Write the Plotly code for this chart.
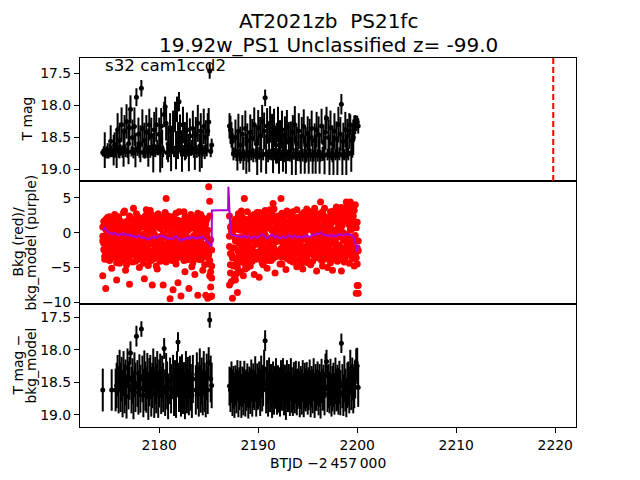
import plotly.graph_objects as go
from plotly.subplots import make_subplots

# ---------------- data ----------------
T_A = [
    2174.3, 2174.4, 2174.5, 2174.6, 2174.7, 2174.8, 2174.9, 2175.0, 2175.1, 2175.2,
    2175.3, 2175.4, 2175.5, 2175.6, 2175.7, 2175.8, 2175.9, 2176.0, 2176.1, 2176.2,
    2176.3, 2176.4, 2176.5, 2176.6, 2176.7, 2176.8, 2176.9, 2177.0, 2177.1, 2177.2,
    2177.3, 2177.4, 2177.5, 2177.6, 2177.7, 2177.8, 2177.9, 2178.0, 2178.1, 2178.2,
    2178.3, 2178.4, 2178.5, 2178.6, 2178.7, 2178.8, 2178.9, 2179.0, 2179.1, 2179.2,
    2179.3, 2179.4, 2179.5, 2179.6, 2179.7, 2179.8, 2179.9, 2180.0, 2180.1, 2180.2,
    2180.3, 2180.4, 2180.5, 2180.6, 2180.7, 2180.8, 2180.9, 2181.0, 2181.1, 2181.2,
    2181.3, 2181.4, 2181.5, 2181.6, 2181.7, 2181.8, 2181.9, 2182.0, 2182.1, 2182.2,
    2182.3, 2182.4, 2182.5, 2182.6, 2182.7, 2182.8, 2182.9, 2183.0, 2183.1, 2183.2,
    2183.3, 2183.4, 2183.5, 2183.6, 2183.7, 2183.8, 2183.9, 2184.0, 2184.1, 2184.2,
    2184.3, 2184.4, 2184.5, 2184.6, 2184.7, 2184.8, 2184.9, 2185.0, 2185.1, 2185.2,
    2185.3,
]
T_B = [
    2187.1, 2187.2, 2187.3, 2187.4, 2187.5, 2187.6, 2187.7, 2187.8, 2187.9, 2188.0,
    2188.1, 2188.2, 2188.3, 2188.4, 2188.5, 2188.6, 2188.7, 2188.8, 2188.9, 2189.0,
    2189.1, 2189.2, 2189.3, 2189.4, 2189.5, 2189.6, 2189.7, 2189.8, 2189.9, 2190.0,
    2190.1, 2190.2, 2190.3, 2190.4, 2190.5, 2190.6, 2190.7, 2190.8, 2190.9, 2191.0,
    2191.1, 2191.2, 2191.3, 2191.4, 2191.5, 2191.6, 2191.7, 2191.8, 2191.9, 2192.0,
    2192.1, 2192.2, 2192.3, 2192.4, 2192.5, 2192.6, 2192.7, 2192.8, 2192.9, 2193.0,
    2193.1, 2193.2, 2193.3, 2193.4, 2193.5, 2193.6, 2193.7, 2193.8, 2193.9, 2194.0,
    2194.1, 2194.2, 2194.3, 2194.4, 2194.5, 2194.6, 2194.7, 2194.8, 2194.9, 2195.0,
    2195.1, 2195.2, 2195.3, 2195.4, 2195.5, 2195.6, 2195.7, 2195.8, 2195.9, 2196.0,
    2196.1, 2196.2, 2196.3, 2196.4, 2196.5, 2196.6, 2196.7, 2196.8, 2196.9, 2197.0,
    2197.1, 2197.2, 2197.3, 2197.4, 2197.5, 2197.6, 2197.7, 2197.8, 2197.9, 2198.0,
    2198.1, 2198.2, 2198.3, 2198.4, 2198.5, 2198.6, 2198.7, 2198.8, 2198.9, 2199.0,
    2199.1, 2199.2, 2199.3, 2199.4, 2199.5, 2199.6, 2199.7, 2199.8, 2199.9, 2200.0,
    2200.1,
]

# panel 1: T mag
mag_A = [
    18.74, 18.72, 18.70, 18.76, 18.73, 18.71, 18.75, 18.70, 18.56, 18.72,
    18.74, 18.70, 18.62, 18.73, 18.68, 18.38, 18.72, 18.55, 18.70, 18.30,
    18.74, 18.66, 18.40, 18.71, 18.25, 18.73, 18.60, 18.35, 18.06, 18.72,
    18.50, 18.74, 18.33, 18.70, 17.87, 18.68, 18.45, 18.72, 18.60, 17.73,
    18.36, 18.74, 18.55, 18.71, 18.42, 18.73, 18.66, 18.30, 18.72, 18.48,
    18.70, 18.74, 18.38, 18.71, 18.30, 18.66, 18.70, 18.45, 18.73, 18.32,
    18.68, 18.72, 18.14, 18.02, 18.28, 18.74, 18.60, 18.71, 18.40, 18.73,
    18.66, 18.35, 18.72, 18.18, 18.70, 18.06, 18.55, 17.94, 18.42, 18.70,
    18.74, 18.30, 18.71, 18.56, 18.73, 18.38, 18.70, 18.74, 18.48, 18.71,
    18.66, 18.36, 18.73, 18.70, 18.45, 18.72, 18.28, 18.70, 18.74, 18.40,
    18.68, 18.71, 18.33, 18.73, 18.50, 18.70, 18.40, 18.26, 17.46, 18.72,
    18.62,
]
err_A = [
    0.06, 0.08, 0.28, 0.07, 0.09, 0.12, 0.08, 0.10, 0.25, 0.09,
    0.07, 0.24, 0.20, 0.08, 0.30, 0.26, 0.10, 0.28, 0.09, 0.27,
    0.08, 0.30, 0.25, 0.10, 0.27, 0.09, 0.32, 0.26, 0.22, 0.08,
    0.28, 0.09, 0.30, 0.27, 0.14, 0.11, 0.26, 0.10, 0.29, 0.13,
    0.30, 0.08, 0.28, 0.12, 0.27, 0.09, 0.30, 0.25, 0.10, 0.29,
    0.09, 0.31, 0.28, 0.10, 0.27, 0.12, 0.08, 0.26, 0.32, 0.28,
    0.30, 0.09, 0.20, 0.16, 0.27, 0.11, 0.29, 0.10, 0.28, 0.30,
    0.10, 0.27, 0.09, 0.24, 0.30, 0.20, 0.29, 0.15, 0.28, 0.10,
    0.30, 0.28, 0.09, 0.30, 0.11, 0.27, 0.10, 0.29, 0.28, 0.08,
    0.12, 0.28, 0.09, 0.31, 0.27, 0.10, 0.29, 0.10, 0.30, 0.28,
    0.30, 0.09, 0.28, 0.11, 0.27, 0.10, 0.28, 0.22, 0.12, 0.09,
    0.10,
]
mag_B = [
    18.32, 18.38, 18.46, 18.56, 18.76, 18.74, 18.50, 18.78, 18.72, 18.40,
    18.77, 18.62, 18.79, 18.45, 18.75, 18.78, 18.36, 18.76, 18.55, 18.79,
    18.74, 18.42, 18.77, 18.51, 18.78, 18.30, 18.76, 18.60, 18.79, 18.35,
    18.75, 18.48, 18.78, 18.25, 18.77, 18.40, 17.88, 18.76, 18.32, 18.79,
    18.55, 18.28, 18.77, 18.44, 18.78, 18.35, 18.76, 18.62, 18.79, 18.30,
    18.77, 18.50, 18.78, 18.38, 18.75, 18.79, 18.45, 18.76, 18.34, 18.78,
    18.56, 18.77, 18.53, 18.79, 18.42, 18.76, 18.30, 18.78, 18.60, 18.77,
    18.40, 18.79, 18.76, 18.48, 18.78, 18.33, 18.77, 18.62, 18.79, 18.44,
    18.76, 18.50, 18.78, 18.36, 18.77, 18.79, 18.55, 18.76, 18.38, 18.78,
    18.46, 18.77, 18.79, 18.32, 18.76, 18.58, 18.78, 18.42, 18.20, 18.77,
    18.50, 18.79, 18.35, 18.76, 18.60, 18.78, 18.40, 18.77, 18.52, 18.79,
    18.30, 18.76, 18.45, 17.98, 18.78, 18.56, 18.77, 18.38, 18.79, 18.48,
    18.76, 18.40, 18.30, 18.74, 18.55, 18.50, 18.36, 18.30, 18.28, 18.26,
    18.32,
]
err_B = [
    0.20, 0.22, 0.20, 0.20, 0.10, 0.08, 0.28, 0.09, 0.30, 0.27,
    0.10, 0.29, 0.08, 0.30, 0.26, 0.09, 0.28, 0.31, 0.27, 0.10,
    0.30, 0.28, 0.09, 0.30, 0.11, 0.27, 0.08, 0.29, 0.30, 0.28,
    0.10, 0.30, 0.27, 0.26, 0.09, 0.29, 0.13, 0.31, 0.28, 0.10,
    0.30, 0.27, 0.09, 0.31, 0.28, 0.30, 0.10, 0.29, 0.12, 0.28,
    0.30, 0.27, 0.09, 0.30, 0.29, 0.10, 0.28, 0.31, 0.27, 0.09,
    0.30, 0.11, 0.28, 0.30, 0.27, 0.09, 0.29, 0.31, 0.27, 0.10,
    0.28, 0.09, 0.31, 0.30, 0.10, 0.27, 0.30, 0.28, 0.09, 0.27,
    0.31, 0.29, 0.10, 0.28, 0.30, 0.09, 0.27, 0.31, 0.28, 0.10,
    0.29, 0.30, 0.09, 0.27, 0.11, 0.28, 0.30, 0.27, 0.18, 0.09,
    0.28, 0.30, 0.27, 0.10, 0.29, 0.31, 0.28, 0.09, 0.27, 0.30,
    0.28, 0.10, 0.27, 0.16, 0.31, 0.29, 0.09, 0.28, 0.30, 0.27,
    0.10, 0.28, 0.16, 0.30, 0.27, 0.28, 0.20, 0.15, 0.12, 0.10,
    0.12,
]

# panel 2: background (four samples per time stamp) and background model
bkg1_A = [
    -1.2, 1.6, -3.4, 0.5, -2.1, 2.2, -0.8, -4.0, 1.1, -1.9,
    0.2, -3.0, 2.6, -1.5, -4.3, 0.9, -2.6, 1.8, -0.4, -3.7,
    1.3, -2.3, 3.1, -0.1, -4.6, 0.7, -1.7, 2.4, -3.2, -0.9,
    1.9, -2.8, 0.3, -4.1, 2.7, -1.3, -3.5, 0.8, -2.0, 1.5,
    -0.6, -4.4, 2.1, -1.1, 3.3, -2.9, 0.1, -3.8, 1.2, -1.6,
    2.5, -3.3, -0.3, 1.0, -4.8, -1.8, 2.0, -2.4, 0.6, -3.9,
    1.4, -0.7, -2.7, 2.9, -4.2, 0.4, -1.4, 1.7, -3.1, -0.2,
    2.3, -3.6, 0.9, -1.0, -4.5, 1.6, -2.2, 3.0, -0.5, -3.3,
    1.1, -1.9, -4.0, 2.2, 0.0, -2.8, 1.4, -3.5, -0.8, 2.6,
    -1.4, -4.3, 0.7, 1.9, -2.5, -0.3, 2.8, -3.8, -1.2, 1.0,
    -2.9, 2.1, -0.6, -4.6, 1.3, -1.7, 0.4, -3.2, 2.4, -1.0,
    -2.5,
]
bkg2_A = [
    -6.2, 0.9, -2.6, -8.0, 1.8, -0.3, -3.9, 2.3, -1.6, -5.1,
    1.4, -0.9, -3.1, 2.0, -6.8, 0.3, -2.0, -4.4, 1.2, -1.3,
    -3.6, 2.9, -0.6, -5.4, 0.6, -2.4, 1.7, -7.4, -1.1, 0.1,
    -4.2, 3.5, -1.8, 1.0, -2.9, -0.4, 2.2, -5.0, -1.5, 0.8,
    -3.0, 1.6, -6.6, -0.9, 2.5, -2.1, -4.7, 0.5, 3.2, -1.4,
    -7.5, 0.2, -2.6, 1.9, -0.8, -5.2, 2.7, -1.9, -3.4, 1.1,
    -0.5, -7.5, 2.0, -2.3, 4.9, -3.7, 0.8, -1.2, -9.5, 1.5,
    -4.0, -8.2, 0.5, -2.7, 2.8, -1.0, -7.2, 1.2, -3.0, -9.1,
    0.2, -2.1, 3.0, -5.6, -0.7, 1.8, -3.3, -8.0, 0.6, -1.8,
    -4.9, 2.2, -0.4, -6.0, 1.5, -2.6, -9.0, 0.9, -3.6, 2.6,
    -1.5, -5.4, 1.1, -2.2, -9.0, 0.0, -9.4, 6.6, 4.5, -9.2,
    -9.1,
]
bkg3_A = [
    -0.5, -2.4, 1.2, -1.0, -3.1, 0.4, -1.8, 1.7, -2.7, 0.0,
    -1.6, 1.0, -2.2, -0.3, 2.0, -3.3, -0.9, 0.6, -2.0, 1.4,
    -2.8, -0.6, 0.9, -1.9, 1.6, -3.0, -0.2, -1.2, 2.1, -2.5,
    0.2, -1.4, -3.2, 1.3, -0.7, -2.3, 0.5, -1.6, 1.9, -3.6,
    -1.3, 0.8, -2.0, -3.4, 1.5, -0.4, -2.6, 2.0, -1.0, -2.9,
    0.3, -1.5, -2.4, 1.8, -0.6, -3.1, 0.9, -1.2, -2.1, 1.2,
    -2.9, -0.2, 1.1, -1.8, -3.3, 0.6, -2.4, -0.9, 1.6, -2.0,
    -0.6, 1.4, -3.0, -1.5, 0.1, -2.6, 1.8, -1.1, -3.5, 0.5,
    -2.3, -0.4, 1.5, -3.1, -1.3, 0.8, -2.0, 1.2, -3.4, -0.8,
    1.3, -2.1, -0.9, -3.2, 0.4, -1.7, 1.7, -2.8, 0.0, -1.4,
    -3.6, 0.7, -1.9, 1.0, -2.7, -0.5, -3.3, -1.5, -4.0, -5.6,
    -6.5,
]
bkg4_A = [
    0.8, -1.5, -3.8, 1.9, -0.2, -2.9, 0.6, -1.1, -3.5, 1.4,
    -2.5, 0.3, -1.2, -3.6, 1.1, -0.5, 2.3, -2.9, -1.9, 0.5,
    0.0, -3.9, -1.4, 1.5, -2.6, 0.2, -3.7, 1.0, -0.7, -2.0,
    -2.4, 0.9, -0.5, -2.7, 1.6, -3.9, -1.0, 2.1, -0.3, -1.9,
    1.9, -2.6, -0.2, 2.4, -3.6, 0.5, -1.4, -3.0, 0.7, -4.0,
    -1.0, 1.3, -3.7, -0.4, 2.2, -2.6, -1.1, 0.8, -4.1, -0.5,
    -1.6, 2.2, -0.6, -3.8, 0.8, -2.2, 2.4, -3.5, -0.4, 0.9,
    -3.0, -0.3, 2.0, -2.0, -3.8, 0.3, -0.9, -2.5, 1.2, -1.7,
    1.6, -3.6, -0.5, -1.6, 2.3, -3.9, 0.3, -1.0, 1.7, -2.5,
    -2.9, 0.8, -3.7, -0.6, 2.0, -3.3, -1.1, 0.6, -2.3, -3.9,
    0.4, -2.7, 1.5, -3.5, -0.3, 1.9, -2.1, -4.4, -6.2, -7.8,
    -4.8,
]
bkg1_B = [
    2.4, -4.6, 1.0, -2.2, 0.3, -3.6, 1.9, -0.7, -5.0, 2.7,
    -1.5, 0.6, -3.9, 2.2, -0.9, -4.4, 1.4, -2.5, 3.0, -0.2,
    -3.3, 1.8, -1.2, -4.1, 0.4, 2.6, -2.8, -0.5, 1.2, -3.7,
    2.9, -1.6, 0.0, -4.3, 1.6, -2.0, 3.2, -0.8, -3.1, 0.9,
    -2.4, 2.3, -4.0, 0.7, -1.3, 3.4, -3.5, 1.1, -0.4, -2.7,
    1.7, -4.5, 0.2, 2.8, -1.9, -3.2, 1.3, -0.6, 3.1, -2.3,
    -3.8, 0.8, 2.5, -1.1, -4.2, 1.5, -2.6, 0.1, 3.3, -1.7,
    -3.0, 2.0, -0.3, -4.4, 1.0, 2.9, -2.1, -0.9, -3.6, 1.8,
    0.5, -2.9, 3.0, -1.4, -4.1, 1.2, -0.1, 2.4, -3.3, -1.0,
    2.7, -2.2, 0.6, -4.0, 1.9, -1.5, 3.5, -3.4, 0.2, -0.8,
    -2.6, 2.2, -4.3, 1.4, -1.0, 3.1, -3.1, 0.4, -2.0, 2.8,
    -0.6, -3.9, 1.7, 3.6, -2.4, 0.0, -4.2, 2.5, -1.3, 3.8,
    -3.0, 1.1, 4.4, -1.8, 0.6, -3.7, 3.2, -0.4, -2.3, 1.5,
    -7.6,
]
bkg2_B = [
    -7.5, 0.8, -3.1, -9.4, 1.5, -0.6, -6.8, 2.0, -8.6, -2.7,
    0.4, -5.6, 3.1, -1.8, -6.2, 4.9, -3.4, 0.9, -5.0, 1.7,
    -1.0, -4.8, 2.4, -2.9, -0.3, -6.0, 1.1, -3.8, 2.9, -1.5,
    -6.4, 0.6, -2.3, 1.9, -4.6, -0.9, 2.6, -3.3, -5.1, 1.0,
    -1.7, 3.3, -3.9, 0.3, 4.2, -2.2, -5.8, 1.6, -0.7, -3.0,
    2.1, -1.2, 4.9, -4.5, 0.5, -2.6, 1.4, -5.3, -0.2, 2.7,
    -2.0, -4.0, 1.8, -0.5, 3.0, -3.5, 0.9, -1.9, -4.9, 2.2,
    -1.3, 0.4, -3.7, 2.6, -5.2, -0.1, 1.5, -2.7, 3.4, -4.3,
    1.3, -1.1, -4.6, 2.0, 0.7, -3.0, 3.5, -2.0, -5.5, 0.3,
    -3.6, 1.0, 4.4, -1.6, -4.8, 2.3, -0.5, -2.9, 1.4, -5.0,
    0.9, -1.9, 3.0, -3.4, -5.4, 1.8, 0.2, -2.5, 3.7, -4.1,
    1.2, -2.7, 0.5, -5.5, 2.9, -1.1, 3.4, -3.6, 4.4, -0.3,
    2.0, -4.4, -1.0, 3.9, -2.8, 0.8, -4.8, 4.0, -8.7, -7.6,
    -1.2,
]
bkg3_B = [
    -2.0, -5.8, 0.2, -3.6, 1.4, -6.5, -1.2, -4.4, 0.9, -2.6,
    -3.2, 1.6, -0.6, -4.0, 0.8, -2.1, -5.2, 1.9, -1.4, -3.0,
    0.5, -2.4, 1.3, -0.9, -3.5, 2.0, -1.7, 0.3, -2.8, 1.0,
    -1.2, -3.0, 1.8, -0.4, -2.5, 0.7, -3.6, 1.4, -1.0, -2.2,
    0.9, -1.6, -3.1, 1.7, -0.5, -2.6, 2.2, -1.3, -3.4, 0.4,
    -0.8, 1.2, -2.3, -3.5, 0.6, 1.9, -1.5, -2.9, 0.1, -1.1,
    1.5, -2.7, -0.3, -3.3, 1.0, -1.8, 2.1, -0.7, -2.4, 0.8,
    -1.5, 1.7, -3.0, 0.3, -2.0, -0.6, 2.4, -3.2, 1.1, -1.2,
    -2.5, 0.6, -1.0, 2.3, -3.1, 0.0, -1.9, 1.6, -0.4, -2.8,
    1.0, -1.6, -3.4, 0.9, -0.7, 2.5, -2.2, 1.3, -1.1, -3.0,
    2.0, -0.5, -2.6, 0.5, 2.6, -1.4, -3.2, 1.7, -0.2, -2.0,
    2.4, -1.8, 0.2, -3.0, 1.1, -0.9, 2.8, -2.3, -0.4, 1.9,
    -1.6, 2.9, 0.4, -2.7, 3.4, -1.1, 1.6, -3.1, 0.7, -2.2,
    -8.7,
]
bkg4_B = [
    -0.5, -3.0, -7.0, 0.5, -4.8, -2.2, 0.8, -5.9, -1.0, -3.6,
    1.0, -4.2, -1.9, 0.4, -2.9, 1.2, -0.1, -3.8, 0.7, -2.0,
    -4.0, -0.2, 0.9, -2.2, 1.5, -3.1, 0.0, -1.3, -3.4, 2.0,
    -0.4, 1.3, -3.7, -1.3, 2.2, -2.9, -0.3, 0.6, -2.6, -4.0,
    1.8, -0.8, -2.1, 2.7, -3.7, 0.1, -1.1, -2.9, 1.2, 2.4,
    -2.9, 0.2, -1.1, 1.6, -3.3, -0.3, 2.4, -2.0, -3.7, 0.8,
    -0.6, 2.6, -3.0, 0.4, -1.4, -3.7, 1.2, -2.4, 0.4, -4.0,
    2.2, -2.6, 0.9, -1.0, -3.3, 1.8, -0.2, -4.0, 0.4, -2.4,
    -1.7, 2.6, -2.3, 0.8, -1.2, 2.9, -3.5, -0.5, 1.9, -3.6,
    -0.3, 2.0, -1.9, -2.6, 3.0, -0.2, -3.8, 0.2, -1.7, 2.1,
    -3.5, 1.0, -1.3, 2.2, -3.7, 0.0, 2.3, -1.3, -3.6, 0.5,
    -1.8, 3.0, -3.3, 0.9, -2.2, 2.2, -0.8, -3.3, 1.7, -1.7,
    3.0, -2.2, 1.6, -0.7, -3.6, 2.4, -1.2, 0.9, -3.6, -4.5,
    -2.6,
]
model_A = [
    0.30, 0.55, 0.68, 0.50, 0.25, 0.10, 0.05, -0.05, -0.15, -0.10,
    -0.20, -0.05, 0.00, -0.15, -0.30, -0.25, -0.35, -0.30, -0.20, -0.35,
    -0.10, -0.05, -0.25, -0.40, -0.30, -0.20, -0.35, -0.45, -0.30, -0.50,
    -0.55, -0.45, -0.60, -0.50, -0.65, -0.55, -0.40, -0.60, -0.70, -0.55,
    -0.65, -0.80, -0.70, -0.75, -0.85, -1.00, -0.90, -0.95, -0.80, -0.70,
    -0.60, -0.75, -0.55, -0.65, -0.80, -0.70, -0.50, -0.60, -0.45, -0.55,
    -0.40, -0.50, -0.65, -0.55, -0.70, -0.85, -0.75, -0.90, -0.80, -0.95,
    -0.85, -0.90, -0.70, -0.55, -0.50, -0.65, -0.80, -0.95, -1.05, -0.90,
    -1.10, -1.00, -0.85, -0.95, -0.75, -0.80, -0.90, -0.70, -0.85, -0.65,
    -0.75, -0.60, -0.70, -0.85, -0.75, -0.90, -0.80, -0.70, -0.60, -0.75,
    -0.65, -0.55, -0.70, -0.85, -1.00, -1.10, -1.30, -1.50, -1.75, -1.95,
    -2.00,
]
gap_t = [2185.32, 2186.96, 2186.99]
gap_model = [3.2, 3.25, 6.6]
model_B = [
    1.20, -0.10, -0.30, -0.35, -0.45, -0.40, -0.50, -0.45, -0.55, -0.40,
    -0.50, -0.60, -0.45, -0.55, -0.65, -0.50, -0.60, -0.70, -0.55, -0.45,
    -0.60, -0.75, -0.85, -0.70, -0.60, -0.65, -0.55, -0.70, -0.80, -0.65,
    -0.55, -0.45, -0.30, -0.20, -0.35, -0.50, -0.60, -0.75, -0.85, -0.70,
    -0.60, -0.50, -0.40, -0.25, -0.45, -0.60, -0.70, -0.55, -0.45, -0.60,
    -0.70, -0.85, -0.75, -0.60, -0.50, -0.65, -0.80, -0.70, -0.55, -0.45,
    -0.35, -0.50, -0.65, -0.75, -0.60, -0.50, -0.40, -0.55, -0.70, -0.60,
    -0.50, -0.65, -0.75, -0.60, -0.70, -0.55, -0.45, -0.60, -0.50, -0.40,
    -0.55, -0.65, -0.50, -0.40, -0.30, -0.45, -0.35, -0.20, -0.10, -0.25,
    -0.15, -0.05, 0.05, -0.10, -0.25, -0.35, -0.30, -0.45, -0.35, -0.50,
    -0.40, -0.30, -0.45, -0.55, -0.40, -0.35, -0.50, -0.60, -0.45, -0.35,
    -0.25, -0.35, -0.20, -0.30, -0.40, -0.35, -0.25, -0.30, -0.20, -0.30,
    -0.25, -0.20, -0.35, -0.30, -0.45, -0.60, -0.80, -1.40, -2.20, -2.75,
    -1.80,
]

# panel 3: T mag - bkg_model (None = no measurement)
magc_A = [
    18.62, None, None, None, None, None, None, None, None, 18.62,
    None, None, None, 18.62, 18.55, 18.40, 18.62, 18.30, 18.58, 18.45,
    18.68, 18.35, 18.60, 18.50, 18.72, 18.28, 18.55, 18.44, 18.05, 18.62,
    18.48, 18.70, 18.36, 18.58, 17.79, 18.52, 18.66, 18.40, 18.60, 17.68,
    18.45, 18.70, 18.33, 18.56, 18.62, 18.38, 18.72, 18.50, 18.42, 18.65,
    18.55, 18.30, 18.68, 18.47, 18.60, 18.35, 18.70, 18.52, 18.40, 18.63,
    18.44, 18.58, 17.98, 18.66, 18.38, 18.55, 18.72, None, 18.48, 18.60,
    None, 18.42, 18.65, 18.52, 18.70, 18.35, 17.88, 18.58, 18.46, 18.68,
    18.40, 18.62, 18.55, 18.72, 18.36, 18.60, 18.48, 18.66, 18.42, 18.58,
    18.70, 18.45, None, None, 18.62, 18.38, 18.55, 18.68, 18.30, 18.60,
    18.48, 18.66, 18.35, 18.58, 18.70, 18.42, 18.62, 18.20, 17.54, 18.45,
    18.55,
]
errc_A = [
    0.33, 0.30, 0.30, 0.30, 0.30, 0.30, 0.30, 0.30, 0.30, 0.32,
    0.30, 0.30, 0.30, 0.33, 0.35, 0.32, 0.36, 0.30, 0.38, 0.34,
    0.36, 0.33, 0.38, 0.35, 0.34, 0.30, 0.37, 0.33, 0.18, 0.36,
    0.35, 0.37, 0.32, 0.38, 0.16, 0.36, 0.34, 0.33, 0.37, 0.12,
    0.36, 0.34, 0.32, 0.38, 0.35, 0.33, 0.36, 0.37, 0.34, 0.38,
    0.35, 0.32, 0.37, 0.36, 0.38, 0.33, 0.35, 0.37, 0.34, 0.36,
    0.35, 0.38, 0.16, 0.36, 0.33, 0.37, 0.35, 0.30, 0.36, 0.38,
    0.30, 0.34, 0.37, 0.36, 0.35, 0.33, 0.15, 0.38, 0.36, 0.35,
    0.33, 0.37, 0.36, 0.35, 0.34, 0.38, 0.37, 0.35, 0.33, 0.36,
    0.35, 0.37, 0.30, 0.30, 0.38, 0.34, 0.36, 0.35, 0.32, 0.37,
    0.36, 0.35, 0.33, 0.38, 0.34, 0.36, 0.37, 0.24, 0.12, 0.36,
    0.35,
]
magc_B = [
    18.56, 18.62, 18.50, 18.66, 18.58, 18.70, 18.55, 18.64, 18.48, 18.68,
    18.60, 18.52, 18.71, 18.57, 18.65, 18.50, 18.68, 18.62, 18.55, 18.70,
    18.58, 18.64, 18.48, 18.67, 18.55, 18.62, 18.45, 18.70, 18.57, 18.60,
    18.52, 18.66, 18.42, 18.60, 18.55, 18.30, 17.86, 18.62, 18.50, 18.68,
    18.45, 18.60, 18.56, 18.70, 18.50, 18.64, 18.58, 18.48, 18.66, 18.55,
    18.62, 18.70, 18.52, 18.60, 18.45, 18.66, 18.56, 18.72, 18.50, 18.64,
    18.58, 18.68, 18.46, 18.62, 18.70, 18.55, 18.64, 18.50, 18.66, 18.60,
    18.52, 18.68, 18.58, 18.65, 18.48, 18.70, 18.56, 18.62, 18.54, 18.66,
    18.60, 18.50, 18.68, 18.57, 18.64, 18.46, 18.70, 18.58, 18.62, 18.52,
    18.66, 18.55, 18.70, 18.48, 18.62, 18.58, 18.68, 18.40, 18.18, 18.60,
    18.56, 18.66, 18.50, 18.70, 18.60, 18.54, 18.68, 18.48, 18.62, 18.58,
    18.64, 18.50, 18.66, 17.90, 18.56, 18.70, 18.45, 18.62, 18.74, 18.55,
    18.52, 18.66, 18.30, 18.58, 18.45, 18.62, 18.56, 18.45, 18.20, 18.25,
    18.58,
]
errc_B = [
    0.30, 0.34, 0.32, 0.36, 0.33, 0.35, 0.31, 0.34, 0.32, 0.36,
    0.33, 0.35, 0.34, 0.31, 0.36, 0.33, 0.35, 0.32, 0.34, 0.36,
    0.32, 0.35, 0.33, 0.36, 0.34, 0.31, 0.35, 0.33, 0.36, 0.32,
    0.34, 0.36, 0.33, 0.35, 0.32, 0.30, 0.16, 0.36, 0.34, 0.35,
    0.33, 0.36, 0.34, 0.35, 0.32, 0.36, 0.33, 0.35, 0.34, 0.31,
    0.35, 0.33, 0.36, 0.34, 0.32, 0.35, 0.33, 0.36, 0.34, 0.32,
    0.36, 0.34, 0.33, 0.35, 0.32, 0.36, 0.34, 0.33, 0.35, 0.31,
    0.34, 0.36, 0.33, 0.35, 0.32, 0.34, 0.36, 0.33, 0.35, 0.34,
    0.33, 0.35, 0.36, 0.32, 0.34, 0.33, 0.35, 0.36, 0.32, 0.34,
    0.35, 0.33, 0.36, 0.34, 0.32, 0.35, 0.33, 0.34, 0.18, 0.36,
    0.34, 0.32, 0.36, 0.33, 0.35, 0.34, 0.32, 0.36, 0.33, 0.35,
    0.36, 0.33, 0.35, 0.15, 0.34, 0.32, 0.36, 0.33, 0.30, 0.35,
    0.34, 0.32, 0.30, 0.35, 0.33, 0.36, 0.34, 0.30, 0.22, 0.28,
    0.30,
]

discovery_t = 2219.8

title_line1 = "AT2021zb  PS21fc"
title_line2 = "19.92w_PS1 Unclassified z= -99.0"
sector_text = "s32 cam1ccd2"
xlabel = "BTJD \u22122\u2009457\u2009000"
mag_ticks = [17.5, 18.0, 18.5, 19.0]
mag_ticktext = ["17.5", "18.0", "18.5", "19.0"]
bkg_ticks = [-10, -5, 0, 5]
x_ticks = [2180, 2190, 2200, 2210, 2220]

# ---------------- figure ----------------
FONT = "DejaVu Sans"
fig = make_subplots(rows=3, cols=1, shared_xaxes=True, vertical_spacing=0)

T = T_A + T_B

fig.add_trace(go.Scatter(
    x=T, y=mag_A + mag_B, mode="markers",
    marker=dict(color="black", size=5),
    error_y=dict(type="data", array=err_A + err_B, color="black", thickness=2, width=0),
    showlegend=False, hoverinfo="skip"), row=1, col=1)

fig.add_trace(go.Scatter(
    x=T + T + T + T,
    y=bkg1_A + bkg1_B + bkg2_A + bkg2_B + bkg3_A + bkg3_B + bkg4_A + bkg4_B,
    mode="markers", marker=dict(color="#ff0000", size=7),
    showlegend=False, hoverinfo="skip"), row=2, col=1)

fig.add_trace(go.Scatter(
    x=T_A + gap_t + T_B, y=model_A + gap_model + model_B, mode="lines",
    line=dict(color="#b000d0", width=2),
    showlegend=False, hoverinfo="skip"), row=2, col=1)

fig.add_trace(go.Scatter(
    x=T, y=magc_A + magc_B, mode="markers",
    marker=dict(color="black", size=5),
    error_y=dict(type="data", array=errc_A + errc_B, color="black", thickness=2, width=0),
    showlegend=False, hoverinfo="skip"), row=3, col=1)

# discovery line in top panel
fig.add_shape(type="line", xref="x", yref="y domain", x0=discovery_t, x1=discovery_t,
              y0=0, y1=1, line=dict(color="red", width=2, dash="6px,3px"))

axis_common = dict(showline=True, linecolor="black", linewidth=1, mirror=True,
                   showgrid=False, zeroline=False,
                   tickfont=dict(family=FONT, size=13.9, color="black"))

for r in (1, 2, 3):
    fig.update_xaxes(range=[2172.0, 2222.1], row=r, col=1, **axis_common)
fig.update_xaxes(ticks="", showticklabels=False, row=1, col=1)
fig.update_xaxes(ticks="", showticklabels=False, row=2, col=1)
fig.update_xaxes(ticks="outside", ticklen=5, tickwidth=1, tickcolor="black",
                 tickvals=x_ticks, showticklabels=True, row=3, col=1)

fig.update_yaxes(range=[19.184, 17.255], tickvals=mag_ticks, ticktext=mag_ticktext,
                 ticks="outside", ticklen=5, tickwidth=1, tickcolor="black",
                 row=1, col=1, **axis_common)
fig.update_yaxes(range=[-10.24, 7.42], tickvals=bkg_ticks,
                 ticks="outside", ticklen=5, tickwidth=1, tickcolor="black",
                 row=2, col=1, **axis_common)
fig.update_yaxes(range=[19.19, 17.295], tickvals=mag_ticks, ticktext=mag_ticktext,
                 ticks="outside", ticklen=5, tickwidth=1, tickcolor="black",
                 row=3, col=1, **axis_common)

ann_font = dict(family=FONT, size=13.9, color="black")
title_font = dict(family=FONT, size=20, color="black")
annotations = [
    dict(text=title_line1, xref="paper", yref="paper", x=0.5, y=1, yshift=37,
         xanchor="center", yanchor="middle", showarrow=False, font=title_font,
         borderpad=0),
    dict(text=title_line2, xref="paper", yref="paper", x=0.5, y=1, yshift=13,
         xanchor="center", yanchor="middle", showarrow=False, font=title_font,
         borderpad=0),
    dict(text=sector_text, xref="x", yref="y", x=2174.3, y=17.36,
         xanchor="left", yanchor="middle", showarrow=False,
         font=dict(family=FONT, size=16.7, color="black")),
    dict(text=xlabel, xref="paper", yref="paper", x=0.5, y=0, yshift=-36,
         xanchor="center", yanchor="middle", showarrow=False, font=ann_font),
    dict(text="T mag", xref="paper", yref="y domain", x=0, xshift=-54, y=0.5,
         xanchor="center", yanchor="middle", textangle=-90, showarrow=False, font=ann_font),
    dict(text="Bkg (red)/", xref="paper", yref="y2 domain", x=0, xshift=-63, y=0.5,
         xanchor="center", yanchor="middle", textangle=-90, showarrow=False, font=ann_font),
    dict(text="bkg_model (purple)", xref="paper", yref="y2 domain", x=0, xshift=-50, y=0.5,
         xanchor="center", yanchor="middle", textangle=-90, showarrow=False, font=ann_font),
    dict(text="T mag \u2212", xref="paper", yref="y3 domain", x=0, xshift=-63, y=0.5,
         xanchor="center", yanchor="middle", textangle=-90, showarrow=False, font=ann_font),
    dict(text="bkg_model", xref="paper", yref="y3 domain", x=0, xshift=-50, y=0.5,
         xanchor="center", yanchor="middle", textangle=-90, showarrow=False, font=ann_font),
]

# the page body adds an 8px offset; margins compensate so the plot area
# lands at x 80..576, y 58..427 in the 640x480 window
fig.update_layout(
    width=640, height=480,
    margin=dict(l=72, r=72, t=50, b=61, pad=0),
    paper_bgcolor="white", plot_bgcolor="white",
    font=dict(family=FONT, color="black"),
    annotations=annotations,
    showlegend=False,
)

fig.write_html("out.html")
